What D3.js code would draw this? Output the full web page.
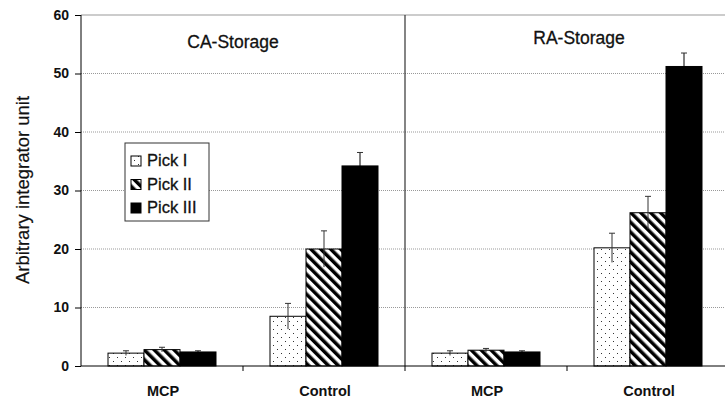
<!DOCTYPE html>
<html>
<head>
<meta charset="utf-8">
<script src="https://cdn.jsdelivr.net/npm/d3@7"></script>
<style>
body { margin: 0; background: #fff; }
text { font-family: Arial, "Liberation Sans", sans-serif; }
</style>
</head>
<body>
<script>
var panels = ["CA-Storage", "RA-Storage"];
var groups = ["MCP", "Control"];
var series = ["Pick I", "Pick II", "Pick III"];
// values [panel][group][series]
var values = [
  [[2.2, 2.8, 2.4], [8.5, 20.0, 34.2]],
  [[2.2, 2.7, 2.4], [20.2, 26.2, 51.2]]
];
var errors = [
  [[0.4, 0.4, 0.2], [2.2, 3.1, 2.3]],
  [[0.4, 0.3, 0.2], [2.5, 2.8, 2.3]]
];
var yTicks = [0, 10, 20, 30, 40, 50, 60];

var width = 725, height = 400;
var x0 = 81, x1 = 729, yTop = 15, yBot = 366;

var svg = d3.select("body").append("svg")
    .attr("width", width)
    .attr("height", height);

var defs = svg.append("defs");
var dots = defs.append("pattern").attr("id", "dots")
    .attr("patternUnits", "userSpaceOnUse").attr("width", 8).attr("height", 8);
dots.append("rect").attr("width", 8).attr("height", 8).attr("fill", "#fff");
dots.append("rect").attr("x", 1).attr("y", 1).attr("width", 1).attr("height", 1).attr("fill", "#333");
dots.append("rect").attr("x", 5).attr("y", 5).attr("width", 1).attr("height", 1).attr("fill", "#333");

var stripes = defs.append("pattern").attr("id", "stripes")
    .attr("patternUnits", "userSpaceOnUse").attr("width", 7).attr("height", 7)
    .attr("patternTransform", "rotate(-45)");
stripes.append("rect").attr("width", 7).attr("height", 7).attr("fill", "#fff");
stripes.append("rect").attr("x", 0).attr("width", 3.5).attr("height", 7).attr("fill", "#000");

var fills = ["url(#dots)", "url(#stripes)", "#000"];

// category x scale: 4 bands across both panels
var cats = [];
panels.forEach(function(p, pi) { groups.forEach(function(g, gi) { cats.push(pi + "-" + gi); }); });
var x = d3.scaleBand().domain(cats).range([x0, x1]);
var xs = d3.scaleBand().domain(series).range([0, 108]);
var y = d3.scaleLinear().domain([0, 60]).range([yBot, yTop]);

// gridlines
svg.selectAll(".grid").data(yTicks.slice(1, -1)).enter().append("line")
    .attr("x1", x0).attr("x2", width)
    .attr("y1", function(d) { return y(d); }).attr("y2", function(d) { return y(d); })
    .attr("stroke", "#999").attr("stroke-dasharray", "1,1").attr("stroke-width", 1);
svg.append("line").attr("x1", x0).attr("x2", width)
    .attr("y1", y(60)).attr("y2", y(60)).attr("stroke", "#999");

// panel divider
svg.append("line").attr("x1", x("1-0")).attr("x2", x("1-0"))
    .attr("y1", y(60)).attr("y2", y(0)).attr("stroke", "#333").attr("stroke-width", 1.2);

// bars
var data = [];
values.forEach(function(pv, pi) {
  pv.forEach(function(gv, gi) {
    gv.forEach(function(v, si) {
      data.push({ cat: pi + "-" + gi, s: si, v: v, e: errors[pi][gi][si] });
    });
  });
});

var off = (x.bandwidth() - 108) / 2;
var bars = svg.append("g");
bars.selectAll("rect").data(data).enter().append("rect")
    .attr("x", function(d) { return x(d.cat) + off + xs(series[d.s]); })
    .attr("y", function(d) { return y(d.v); })
    .attr("width", xs.bandwidth())
    .attr("height", function(d) { return y(0) - y(d.v); })
    .attr("fill", function(d) { return fills[d.s]; })
    .attr("stroke", "#000").attr("stroke-width", 1);

var eb = svg.append("g").attr("stroke", "#333").attr("stroke-width", 1);
data.forEach(function(d) {
  var cx = x(d.cat) + off + xs(series[d.s]) + xs.bandwidth() / 2;
  eb.append("line").attr("x1", cx).attr("x2", cx)
    .attr("y1", y(d.v - d.e)).attr("y2", y(d.v + d.e))
    .attr("stroke", d.s === 2 ? "#000" : "#333");
  eb.append("line").attr("x1", cx - 3).attr("x2", cx + 3)
    .attr("y1", y(d.v + d.e)).attr("y2", y(d.v + d.e));
});

// y axis
var yAxis = svg.append("g").attr("transform", "translate(" + x0 + ",0)")
    .call(d3.axisLeft(y).tickValues(yTicks).tickSize(6).tickPadding(6));
yAxis.select(".domain").attr("stroke", "#000").attr("d", "M0," + yTop + "V" + yBot);
yAxis.selectAll("text").attr("font-size", 14).attr("font-weight", "bold").attr("fill", "#111")
    .style("font-family", "Arial, 'Liberation Sans', sans-serif");

// x axis line + ticks between categories
svg.append("line").attr("x1", x0).attr("x2", width).attr("y1", yBot).attr("y2", yBot)
    .attr("stroke", "#000");
svg.selectAll(".xt").data(cats.slice(1)).enter().append("line")
    .attr("x1", function(d) { return x(d); }).attr("x2", function(d) { return x(d); })
    .attr("y1", yBot).attr("y2", yBot + 5).attr("stroke", "#000");
svg.selectAll(".xl").data(cats).enter().append("text")
    .attr("x", function(d) { return x(d) + x.bandwidth() / 2 + 1; })
    .attr("y", 396).attr("text-anchor", "middle")
    .attr("font-size", 14.5).attr("font-weight", "bold").attr("fill", "#111")
    .text(function(d) { return groups[+d.split("-")[1]]; });

// panel titles
svg.selectAll(".pt").data(panels).enter().append("text")
    .attr("x", function(d, i) { return i === 0 ? 233 : 579; })
    .attr("y", function(d, i) { return i === 0 ? 48 : 44; })
    .attr("text-anchor", "middle")
    .attr("font-size", 17.5).attr("fill", "#111")
    .attr("stroke", "#111").attr("stroke-width", 0.3)
    .text(function(d) { return d; });

// y label
svg.append("text").attr("transform", "translate(29,190) rotate(-90)")
    .attr("text-anchor", "middle").attr("font-size", 18.5).attr("fill", "#111")
    .attr("stroke", "#111").attr("stroke-width", 0.2)
    .text("Arbitrary integrator  unit");

// legend
var lg = svg.append("g").attr("transform", "translate(125,143)");
lg.append("rect").attr("width", 84).attr("height", 78)
    .attr("fill", "#fff").attr("stroke", "#333").attr("stroke-width", 1);
series.forEach(function(s, i) {
  var ly = 23 + i * 23.5;
  lg.append("rect").attr("x", 6).attr("y", ly - 10).attr("width", 10).attr("height", 10)
    .attr("fill", fills[i]).attr("stroke", "#000");
  lg.append("text").attr("x", 22).attr("y", ly).attr("font-size", 16.5).attr("fill", "#111")
    .attr("stroke", "#111").attr("stroke-width", 0.3)
    .text(s);
});
</script>
</body>
</html>
